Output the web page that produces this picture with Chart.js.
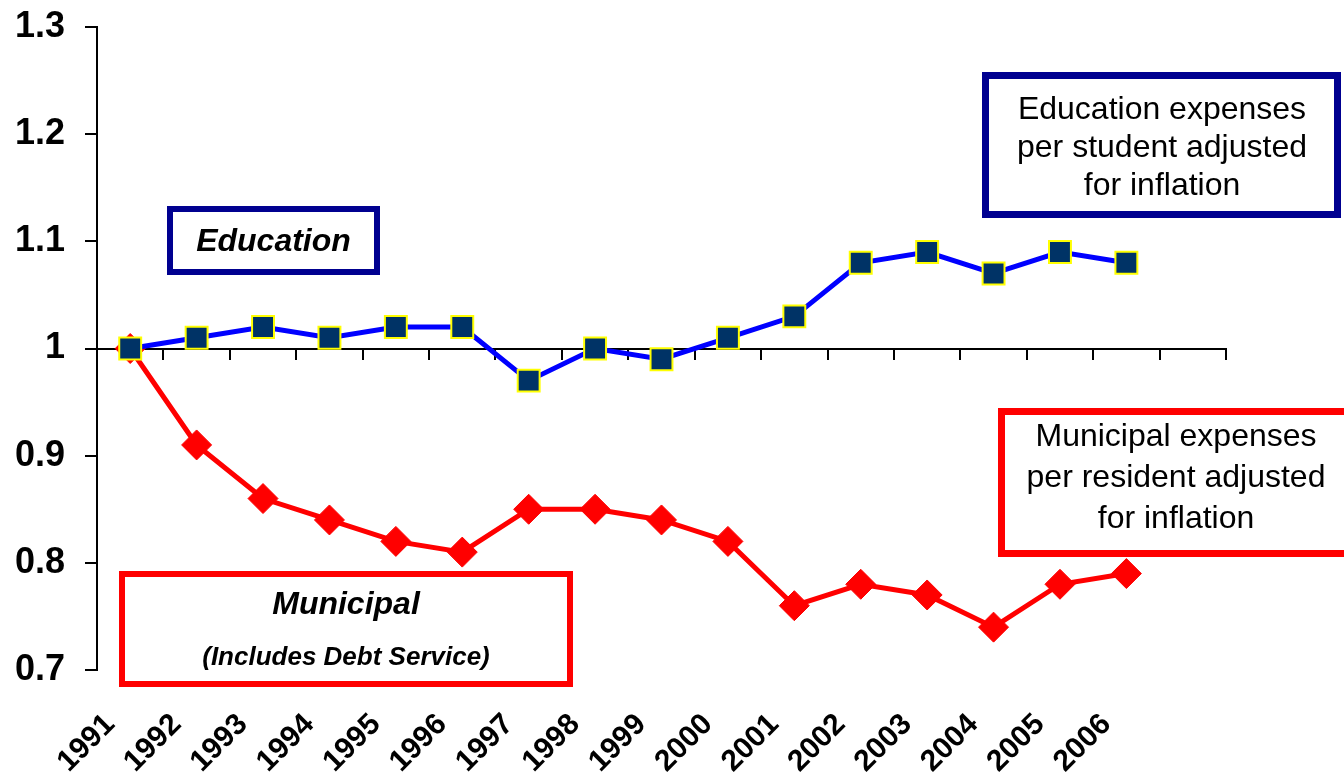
<!DOCTYPE html>
<html>
<head>
<meta charset="utf-8">
<script src="https://cdn.jsdelivr.net/npm/chart.js@4"></script>
<style>
html, body { margin: 0; padding: 0; background: #fff; }
canvas { display: block; }
</style>
</head>
<body>
<canvas id="chart" width="1344" height="772"></canvas>
<script>
// categories (the last slot is empty, as in the original axis)
const years = ['1991', '1992', '1993', '1994', '1995', '1996', '1997', '1998',
    '1999', '2000', '2001', '2002', '2003', '2004', '2005', '2006', ''];
const education = [1.00, 1.01, 1.02, 1.01, 1.02, 1.02, 0.97, 1.00,
    0.99, 1.01, 1.03, 1.08, 1.09, 1.07, 1.09, 1.08];
const municipal = [1.00, 0.91, 0.86, 0.84, 0.82, 0.81, 0.85, 0.85,
    0.84, 0.82, 0.76, 0.78, 0.77, 0.74, 0.78, 0.79];
const yTicks = [0.7, 0.8, 0.9, 1, 1.1, 1.2, 1.3];

const FONT = '"Liberation Sans", Arial, sans-serif';

// text boxes laid over the plot
const notes = [
    { x: 170, y: 209, w: 207, h: 63, color: '#000090', lw: 6,
      lines: [['Education', 'italic bold 32px', 242]] },
    { x: 985.5, y: 75.5, w: 352, h: 139, color: '#000090', lw: 7,
      lines: [['Education expenses', '32px', 110], ['per student adjusted', '32px', 148], ['for inflation', '32px', 186]],
      cx: 1162 },
    { x: 122, y: 574, w: 448, h: 110, color: '#ff0000', lw: 6,
      lines: [['Municipal', 'italic bold 32px', 605], ['(Includes Debt Service)', 'italic bold 26px', 658]] },
    { x: 1001.5, y: 411.5, w: 400, h: 142, color: '#ff0000', lw: 7,
      lines: [['Municipal expenses', '32px', 437], ['per resident adjusted', '32px', 478], ['for inflation', '32px', 519]],
      cx: 1176 }
];

const notesPlugin = {
    id: 'notes',
    afterDraw(chart) {
        const ctx = chart.ctx;
        ctx.save();
        notes.forEach(n => {
            ctx.fillStyle = '#fff';
            ctx.fillRect(n.x, n.y, n.w, n.h);
            ctx.strokeStyle = n.color;
            ctx.lineWidth = n.lw;
            ctx.strokeRect(n.x, n.y, n.w, n.h);
            ctx.fillStyle = '#000';
            ctx.textAlign = 'center';
            ctx.textBaseline = 'middle';
            const cx = n.cx || n.x + n.w / 2;
            n.lines.forEach(l => {
                ctx.font = l[1] + ' ' + FONT;
                ctx.fillText(l[0], cx, l[2]);
            });
        });
        ctx.restore();
    }
};

function noPad(s) {
    s.paddingLeft = 0;
    s.paddingRight = 0;
    s.paddingTop = 0;
    s.paddingBottom = 0;
}

new Chart(document.getElementById('chart'), {
    type: 'line',
    data: {
        labels: years,
        datasets: [{
            label: 'Education',
            data: education,
            borderColor: '#0000ff',
            borderWidth: 5,
            pointStyle: 'rect',
            pointRadius: 15.5,
            pointBackgroundColor: '#003366',
            pointBorderColor: '#ffff00',
            pointBorderWidth: 2,
            tension: 0
        }, {
            label: 'Municipal',
            data: municipal,
            borderColor: '#ff0000',
            borderWidth: 5,
            pointStyle: 'rectRot',
            pointRadius: 15,
            pointBackgroundColor: '#ff0000',
            pointBorderColor: '#ff0000',
            pointBorderWidth: 1,
            tension: 0
        }]
    },
    options: {
        responsive: false,
        animation: false,
        layout: { padding: { top: 27, right: 118, left: 0, bottom: 0 } },
        scales: {
            x: {
                type: 'category',
                offset: true,
                position: { y: 1 },
                grid: {
                    offset: true,
                    drawOnChartArea: false,
                    tickLength: 10,
                    color: '#000',
                    lineWidth: 2
                },
                border: { color: '#000', width: 2 },
                ticks: { display: false },
                afterFit: noPad
            },
            x2: {
                type: 'category',
                labels: years,
                offset: true,
                position: 'bottom',
                grid: { display: false },
                border: { display: false },
                ticks: {
                    autoSkip: false,
                    minRotation: 45,
                    maxRotation: 45,
                    padding: 29,
                    labelOffset: -20,
                    color: '#000',
                    font: { family: FONT, size: 30, weight: 'bold' }
                },
                afterFit: s => { noPad(s); s.height = 102; }
            },
            y: {
                min: 0.7,
                max: 1.3,
                afterBuildTicks: scale => { scale.ticks = yTicks.map(v => ({ value: v })); },
                grid: {
                    drawOnChartArea: false,
                    tickLength: 12,
                    color: '#000',
                    lineWidth: 2
                },
                border: { color: '#000', width: 2 },
                ticks: {
                    padding: 20,
                    color: '#000',
                    font: { family: FONT, size: 36, weight: 'bold' },
                    callback: v => String(v)
                },
                afterFit: s => { noPad(s); s.width = 97; }
            }
        },
        plugins: {
            legend: { display: false },
            tooltip: { enabled: false }
        }
    },
    plugins: [notesPlugin]
});
</script>
</body>
</html>
